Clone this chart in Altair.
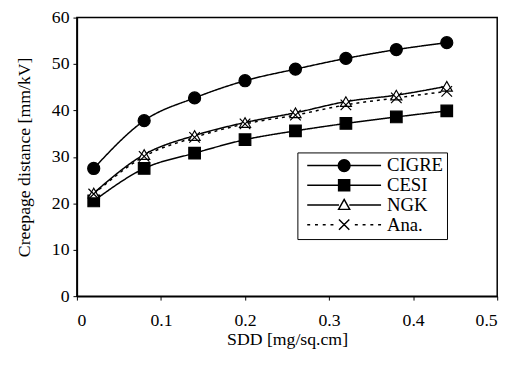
import altair as alt
import pandas as pd

# ---- data ----
sdd = [0.02, 0.08, 0.14, 0.20, 0.26, 0.32, 0.38, 0.44]
cigre = [27.5, 37.8, 42.7, 46.4, 48.9, 51.2, 53.1, 54.6]
cesi = [20.5, 27.5, 30.8, 33.7, 35.6, 37.2, 38.6, 39.9]
ngk = [22.2, 30.5, 34.6, 37.4, 39.5, 41.9, 43.3, 45.2]
ana = [22.0, 30.1, 34.2, 37.1, 39.0, 41.2, 42.7, 44.1]
series = ["CIGRE", "CESI", "NGK", "Ana."]
x_ticks = [0, 0.1, 0.2, 0.3, 0.4, 0.5]
y_ticks = [0, 10, 20, 30, 40, 50, 60]

rows = []
for name, vals in zip(series, [cigre, cesi, ngk, ana]):
    for xv, yv in zip(sdd, vals):
        rows.append({"sdd": xv, "val": yv, "series": name})
df = pd.DataFrame(rows)

FONT = "Liberation Serif"

x_enc = alt.X("sdd:Q", scale=alt.Scale(domain=[0, 0.5], nice=False),
              axis=alt.Axis(values=x_ticks, format=".1~f", title="SDD [mg/sq.cm]",
                            labelPadding=12, titlePadding=1))
y_enc = alt.Y("val:Q", scale=alt.Scale(domain=[0, 60], nice=False),
              axis=alt.Axis(values=y_ticks, title="Creepage distance [mm/kV]",
                            labelPadding=4, titlePadding=18))

lines = alt.Chart(df).mark_line(interpolate="monotone", color="black", strokeWidth=1.5).encode(
    x=x_enc, y=y_enc,
    detail="series:N",
    strokeDash=alt.StrokeDash("series:N", scale=alt.Scale(domain=series,
                              range=[[1, 0], [1, 0], [1, 0], [3, 4]]), legend=None),
)

X_PATH = "M-1,-1L1,1M-1,1L1,-1"
points = alt.Chart(df).mark_point(filled=True, opacity=1, stroke="black", strokeWidth=1.2).encode(
    x=x_enc, y=y_enc,
    shape=alt.Shape("series:N", scale=alt.Scale(domain=series,
                    range=["circle", "square", "triangle-up", X_PATH]), legend=None),
    fill=alt.Fill("series:N", scale=alt.Scale(domain=series,
                  range=["black", "black", "white", "black"]), legend=None),
    size=alt.Size("series:N", scale=alt.Scale(domain=series, range=[150, 115, 140, 70]), legend=None),
)

# legend symbols: line + marker drawn as one path (unit box [-1,1])
leg_paths = [
    "M-1,0H1M0.16,0A0.16,0.16,0,1,1,-0.16,0A0.16,0.16,0,1,1,0.16,0Z",
    "M-1,0H1M-0.15,-0.15H0.15V0.15H-0.15Z",
    "M-1,0H-0.14M0.14,0H1M0,-0.15L0.15,0.12H-0.15Z",
    "M-1,0H-0.92M-0.79,0H-0.71M-0.58,0H-0.5M-0.37,0H-0.29"
    "M-0.14,-0.14L0.14,0.14M-0.14,0.14L0.14,-0.14"
    "M0.29,0H0.37M0.5,0H0.58M0.71,0H0.79M0.92,0H1",
]
legend = alt.Legend(
    title=None, orient="none", legendX=224, legendY=137,
    symbolSize=5625, symbolStrokeWidth=1.5, symbolStrokeColor="black", symbolOpacity=1,
    labelFont=FONT, labelFontSize=19, labelColor="black", labelOffset=5,
    symbolOffset=5, clipHeight=18.7, rowPadding=0,
    padding=4, strokeColor="black", fillColor="white",
)
legend_src = alt.Chart(df).mark_point(filled=True, opacity=0, strokeWidth=1.5).encode(
    x=x_enc, y=y_enc,
    shape=alt.Shape("series:N", scale=alt.Scale(domain=series, range=leg_paths), legend=legend),
    fill=alt.Fill("series:N", scale=alt.Scale(domain=series,
                  range=["black", "black", "white", "black"]), legend=legend),
    stroke=alt.Stroke("series:N", scale=alt.Scale(domain=series,
                      range=["black", "black", "black", "black"]), legend=legend),
)

chart = alt.layer(lines, points, legend_src).resolve_scale(
    shape="independent", fill="independent", size="independent",
    strokeDash="independent", stroke="independent"
).properties(
    width=427, height=283,
    autosize=alt.AutoSizeParams(type="none"),
    padding={"left": 70, "top": 7, "right": 13, "bottom": 54},
).configure(font=FONT).configure_axis(
    labelFont=FONT, titleFont=FONT, labelFontSize=18, titleFontSize=18,
    labelColor="black", titleColor="black", titleFontWeight="normal",
    tickColor="black", domainColor="black", tickSize=4, grid=False, domainWidth=1.5,
).configure_view(stroke="black", strokeWidth=1.5)

chart.save("out.html", embed_options={"renderer": "svg", "actions": False})
